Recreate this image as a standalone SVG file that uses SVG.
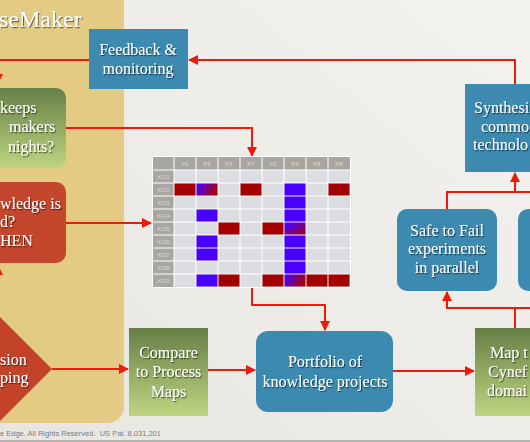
<svg xmlns="http://www.w3.org/2000/svg" width="530" height="442" viewBox="0 0 530 442">
<defs>
<linearGradient id="bg" x1="1" y1="0" x2="0" y2="1"><stop offset="0" stop-color="#f4f2ee"/><stop offset="1" stop-color="#e8e6e1"/></linearGradient>
<linearGradient id="grn" x1="0" y1="0" x2="0" y2="1"><stop offset="0" stop-color="#667f47"/><stop offset="1" stop-color="#bdd580"/></linearGradient>
<linearGradient id="gradH" x1="0" y1="0" x2="1" y2="0.3"><stop offset="0.1" stop-color="#4a00ff"/><stop offset="1" stop-color="#a30010"/></linearGradient>
<linearGradient id="gradD" x1="0" y1="0" x2="1" y2="1"><stop offset="0.15" stop-color="#4a00ff"/><stop offset="1" stop-color="#a30010"/></linearGradient>
<filter id="ts" x="-10%" y="-30%" width="130%" height="160%"><feDropShadow dx="1" dy="1.2" stdDeviation="0.7" flood-color="#000" flood-opacity="0.55"/></filter>
<marker id="ah" markerWidth="10" markerHeight="10" refX="9" refY="5" orient="auto" markerUnits="userSpaceOnUse"><path d="M0,0 L10,5 L0,10 z" fill="#ee1a0c"/></marker>
<style>
.t{font-family:"Liberation Serif","Times New Roman",serif;font-size:16px;fill:#ffffff;filter:url(#ts)}
.m{text-anchor:middle}
.teal{fill:#3c8ab0}
.red{fill:#c4462c}
.grn{fill:url(#grn)}
.c{fill:none;stroke:#ee1a0c;stroke-width:2}
.gl{font-family:"Liberation Sans",Arial,sans-serif;font-size:6px;fill:#dcdad5;text-anchor:middle}
.R{fill:#a40000}
.B{fill:#4a00ff}
</style>
</defs>
<rect x="0" y="0" width="530" height="442" fill="url(#bg)"/>
<g id="panel">
<rect x="-20" y="-20" width="144" height="443" rx="16" fill="#e4cb83"/>
<text class="t" x="-1" y="27" style="font-size:24px">seMaker</text>
</g>
<g id="connectors">
<path class="c" d="M515,84 V60 H189" marker-end="url(#ah)"/>
<path class="c" d="M89,60 H-2 V83" marker-end="url(#ah)"/>
<path class="c" d="M66,128 H252 V156" marker-end="url(#ah)"/>
<path class="c" d="M66,223 H151" marker-end="url(#ah)"/>
<path class="c" d="M-2,317 V266" marker-end="url(#ah)"/>
<path class="c" d="M52,369 H128" marker-end="url(#ah)"/>
<path class="c" d="M208,370 H255" marker-end="url(#ah)"/>
<path class="c" d="M252,288 V305 H325 V330" marker-end="url(#ah)"/>
<path class="c" d="M393,371 H474" marker-end="url(#ah)"/>
<path class="c" d="M515,328 V308 H447 V292" marker-end="url(#ah)"/>
<path class="c" d="M515,308 H535"/>
<path class="c" d="M447,209 V192 H535"/>
<path class="c" d="M515,192 V173" marker-end="url(#ah)"/>
</g>
<g id="feedback">
<rect class="teal" x="89" y="29" width="99" height="60"/>
<text class="t m" x="138" y="55">Feedback &amp;</text>
<text class="t m" x="138" y="74">monitoring</text>
</g>
<g id="what-keeps">
<rect class="grn" x="-60" y="88" width="126" height="80" rx="10"/>
<text class="t" x="0" y="113">keeps</text>
<text class="t" x="9" y="132">makers</text>
<text class="t" x="8" y="152">nights?</text>
</g>
<g id="knowledge-needed">
<rect class="red" x="-60" y="182" width="126" height="81" rx="10"/>
<text class="t" x="0" y="209">wledge is</text>
<text class="t" x="0" y="227">d?</text>
<text class="t" x="0" y="246">HEN</text>
</g>
<g id="decision-mapping">
<polygon points="52,369 -30,287 -112,369 -30,451" fill="#c2432a"/>
<text class="t" x="0" y="365">sion</text>
<text class="t" x="0" y="383">ping</text>
</g>
<g id="matrix">
<rect x="152" y="156" width="199" height="132" fill="#ffffff"/>
<rect x="153" y="157" width="197" height="13" fill="#a8a6a1"/>
<rect x="153" y="170" width="21" height="117" fill="#a8a6a1"/>
<rect x="174" y="170" width="176" height="117" fill="#dcdde1"/>
<g stroke="#ffffff" stroke-width="1">
<path d="M174,157 V287 M196,157 V287 M218,157 V287 M240,157 V287 M262,157 V287 M284,157 V287 M306,157 V287 M328,157 V287"/>
<path d="M153,170 H350 M153,183 H350 M153,196 H350 M153,209 H350 M153,222 H350 M153,235 H350 M153,248 H350 M153,261 H350 M153,274 H350"/>
</g>
<g class="gl">
<text x="185" y="166">P1</text><text x="207" y="166">P5</text><text x="229" y="166">P3</text><text x="251" y="166">P7</text><text x="273" y="166">P2</text><text x="295" y="166">P4</text><text x="317" y="166">P6</text><text x="339" y="166">P8</text>
<text x="163.5" y="179">KO1</text><text x="163.5" y="192">KO2</text><text x="163.5" y="205">KO3</text><text x="163.5" y="218">KO4</text><text x="163.5" y="231">KO5</text><text x="163.5" y="244">KO6</text><text x="163.5" y="257">KO7</text><text x="163.5" y="270">KO8</text><text x="163.5" y="283">KO9</text>
</g>
<rect class="R" x="174.5" y="183.5" width="21" height="12"/>
<rect fill="url(#gradH)" x="196.5" y="183.5" width="21" height="12"/>
<rect class="R" x="240.5" y="183.5" width="21" height="12"/>
<rect class="B" x="284.5" y="183.5" width="21" height="12"/>
<rect class="R" x="328.5" y="183.5" width="21" height="12"/>
<rect class="B" x="284.5" y="196.5" width="21" height="12"/>
<rect class="B" x="196.5" y="209.5" width="21" height="12"/>
<rect class="B" x="284.5" y="209.5" width="21" height="12"/>
<rect class="R" x="218.5" y="222.5" width="21" height="12"/>
<rect class="R" x="262.5" y="222.5" width="21" height="12"/>
<rect fill="url(#gradD)" x="284.5" y="222.5" width="21" height="12"/>
<rect class="B" x="196.5" y="235.5" width="21" height="12"/>
<rect class="B" x="284.5" y="235.5" width="21" height="12"/>
<rect class="B" x="196.5" y="248.5" width="21" height="12"/>
<rect class="B" x="284.5" y="248.5" width="21" height="12"/>
<rect class="B" x="284.5" y="261.5" width="21" height="12"/>
<rect class="B" x="196.5" y="274.5" width="21" height="12"/>
<rect class="R" x="218.5" y="274.5" width="21" height="12"/>
<rect class="R" x="262.5" y="274.5" width="21" height="12"/>
<rect fill="url(#gradH)" x="284.5" y="274.5" width="21" height="12"/>
<rect class="R" x="306.5" y="274.5" width="21" height="12"/>
<rect class="R" x="328.5" y="274.5" width="21" height="12"/>
</g>
<g id="compare">
<rect class="grn" x="129" y="328" width="79" height="88"/>
<text class="t m" x="168.5" y="358">Compare</text>
<text class="t m" x="168.5" y="377">to Process</text>
<text class="t m" x="168.5" y="397">Maps</text>
</g>
<g id="portfolio">
<rect class="teal" x="256" y="331" width="137" height="81" rx="12"/>
<text class="t m" x="325" y="367">Portfolio of</text>
<text class="t m" x="325" y="387">knowledge projects</text>
</g>
<g id="map-cynefin">
<rect class="grn" x="475" y="328" width="80" height="88"/>
<text class="t" x="490" y="358">Map t</text>
<text class="t" x="488" y="377">Cynef</text>
<text class="t" x="487" y="396">domai</text>
</g>
<g id="safe-to-fail">
<rect class="teal" x="397" y="209" width="100" height="82" rx="10"/>
<text class="t m" x="447" y="236">Safe to Fail</text>
<text class="t m" x="447" y="254">experiments</text>
<text class="t m" x="447" y="273">in parallel</text>
</g>
<g id="right-box">
<rect class="teal" x="518" y="209" width="100" height="82" rx="10"/>
</g>
<g id="synthesis">
<rect class="teal" x="465" y="84" width="100" height="88"/>
<text class="t" x="474" y="113">Synthesi</text>
<text class="t" x="481" y="132">commo</text>
<text class="t" x="473" y="150">technolo</text>
</g>
<g id="footer">
<text x="0" y="436" xml:space="preserve" style="font-family:'Liberation Sans',Arial,sans-serif;font-size:7.5px;fill:#7c7c7c">e Edge. All Rights Reserved.  US Pat. 8,031,201</text>
<rect x="0" y="440" width="530" height="2" fill="#b5b3ae"/>
</g>
</svg>
